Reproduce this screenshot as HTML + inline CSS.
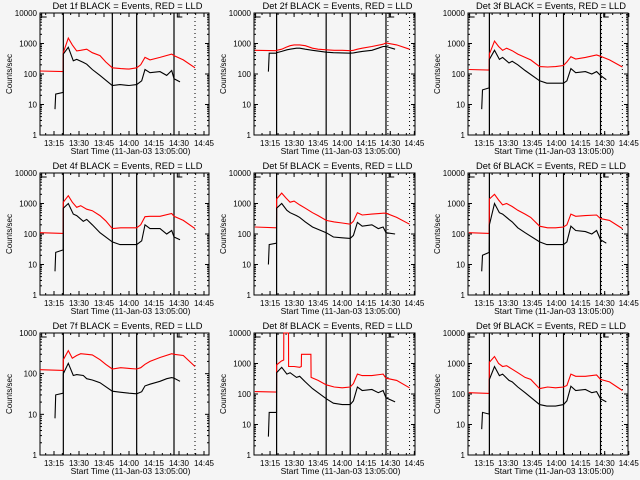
<!DOCTYPE html>
<html><head><meta charset="utf-8"><style>
html,body{margin:0;padding:0;background:#f5f5f5;}
svg{display:block;font-family:"Liberation Sans",sans-serif;}
</style></head><body>
<svg id="chart" width="640" height="480" viewBox="0 0 640 480" xmlns="http://www.w3.org/2000/svg">
<rect x="0" y="0" width="640" height="480" fill="#f5f5f5"/>
</svg>
<script>
// ---- data (minutes after 13:05:00, counts/sec) ----
const detNames = ["1f","2f","3f","4f","5f","6f","7f","8f","9f"];
const tickLabels = ["13:15","13:30","13:45","14:00","14:15","14:30","14:45"];
const tickMinutes = [10,25,40,55,70,85,100];
const yTicks = [1,10,100,1000,10000];
const yTickLabels = ["1","10","100","1000","10000"];

const tRedA = [1.6,15.5,15.6,18.6,21,23.6,26,29.6,33,37.6,41,45,50,55,59.6,62,64.6,67.6,73.6,80.6,82,87.6,94.6];
const tBlkA = [10.6,11,15.5,15.6,18.6,21.6,23.6,27.6,29.6,33,37.6,45,49.6,55,59.6,62.6,64.6,67.6,73.6,77.6,80.6,82,85.6];
const tRedB = [0.5,14,14.1,17.3,20,22.5,25,28.5,32,36.5,40,45,50,55,60,62,64.5,67.5,73.5,80.5,82.3,89,97];
const tBlkB = [9,9.5,14,14.1,17.3,20.5,22.5,26.5,28.5,32,36.5,45,49.5,55,60,62,64.5,67.5,73.5,77.5,80.5,82.3,88];
const tRedC = [0.5,13.2,13.3,16.5,19,21.5,24,27.5,31,35.5,39,44.5,49.5,54.5,59.4,61.5,64,67,73,80,82.4,88,96];
const tBlkC = [8.5,9,13.2,13.3,16.5,19.5,21.5,25.5,27.5,31,35.5,44.5,49,54.5,59.4,61.5,64,67,73,77,80,82.4,86];
const tRed8 = [0.5,14,14.1,17,18.5,18.6,21.5,21.6,25,28.5,29.5,29.6,35.5,35.6,40,45,50,55,60,62,64.5,67.5,73.5,80.5,82.3,89,97];

const red1 = [125,120,500,1500,900,570,600,650,500,400,250,160,150,145,160,200,350,290,350,450,400,290,160];
const blk1 = [7,22,25,450,750,270,300,240,210,140,90,42,45,42,45,60,140,110,120,90,130,70,55];
const red2 = [600,580,600,650,750,850,900,900,850,700,650,620,600,600,580,600,650,700,800,950,1050,900,650];
const blk2 = [120,480,480,500,550,620,650,700,700,650,600,520,500,490,480,490,520,550,600,700,800,800,650];
const red3 = [140,135,450,1200,800,600,700,580,450,350,290,175,170,175,190,250,370,310,350,420,380,290,170];
const blk3 = [7,30,35,300,600,300,350,230,260,200,130,60,50,50,50,60,150,110,120,100,120,90,65];
const red4 = [110,105,1100,1800,1100,750,850,650,580,400,270,150,160,160,160,200,370,380,380,470,380,280,150];
const blk4 = [6,25,30,700,1000,450,400,260,300,200,110,55,45,45,45,60,200,150,150,100,130,80,65];
const red5 = [170,160,1400,2200,1500,1100,1200,900,700,500,400,280,250,230,210,260,500,420,450,480,480,350,210];
const blk5 = [10,45,50,700,1000,600,500,400,350,250,170,110,80,75,72,90,240,180,200,150,170,110,100];
const red6 = [110,105,1400,2000,1300,900,1000,800,600,450,350,180,160,160,170,200,450,380,400,420,320,280,150];
const blk6 = [6,20,25,200,1000,500,450,300,250,160,110,55,45,45,45,55,180,130,120,100,130,65,50];
const red7 = [125,120,220,370,240,280,310,300,290,220,170,130,140,135,130,140,170,200,250,310,300,280,150];
const blk7 = [8,30,33,100,180,90,95,90,75,70,60,37,35,33,32,36,50,55,65,75,80,78,65];
const red8 = [120,115,900,1200,1300,10000,10000,800,800,750,800,2000,2000,350,280,200,170,160,170,220,450,400,400,450,330,280,160];
const blk8 = [4,25,25,500,750,450,500,350,380,250,150,70,50,45,45,60,170,130,140,110,130,75,55];
const red9 = [110,105,1100,1700,1000,800,850,650,500,350,300,150,170,160,170,190,450,380,380,420,300,250,130];
const blk9 = [7,25,22,300,800,400,450,280,250,170,110,45,40,40,45,60,180,130,140,110,120,70,55];

const solidA = [15.6,45,59.6,82];  const dotA = [94.6];
const solidB = [14.1,45,60,82.3];  const dotB = [83.5,97];
const solidC = [13.3,44.5,59.4,82.4]; const dotC = [83,96];

const redSeries = [red1,red2,red3,red4,red5,red6,red7,red8,red9];
const blkSeries = [blk1,blk2,blk3,blk4,blk5,blk6,blk7,blk8,blk9];
const redTimes = [tRedA,tRedB,tRedC,tRedA,tRedB,tRedC,tRedA,tRed8,tRedC];
const blkTimes = [tBlkA,tBlkB,tBlkC,tBlkA,tBlkB,tBlkC,tBlkA,tBlkB,tBlkC];

// ---- layout ----
const colX = [[40,209],[254,415],[468,628]];
const rowY = [[13,135],[173,295],[333,455]];
const colDomain = [[1.6,103],[0,100.4],[0,99.5]];
const colSolid = [solidA,solidB,solidC];
const colDot = [dotA,dotB,dotC];

const NS="http://www.w3.org/2000/svg";
const svg=document.getElementById('chart');
function mk(tag,attrs,parent){const e=document.createElementNS(NS,tag);for(const k in attrs)e.setAttribute(k,attrs[k]);(parent||svg).appendChild(e);return e;}

for(let p=0;p<9;p++){
  const c=p%3, r=Math.floor(p/3);
  const [x0,x1]=colX[c], [y0,y1]=rowY[r];
  const [d0,d1]=colDomain[c];
  const yMaxDec = (p===6)?3:4;
  const xs=t=>x0+(t-d0)/(d1-d0)*(x1-x0);
  const ys=v=>y1-Math.log10(Math.max(v,1))/yMaxDec*(y1-y0);
  const g=mk('g',{});
  
  

  const fr=mk('rect',{x:x0,y:y0,width:x1-x0,height:y1-y0,fill:'none',stroke:'#000','stroke-width':1},g);
  
  

  const ti=mk('text',{x:(x0+x1)/2+3,y:y0-4,'text-anchor':'middle','font-size':9.5,fill:'#000',textLength:150,lengthAdjust:'spacingAndGlyphs'},g);
  ti.textContent='Det '+detNames[p]+' BLACK = Events, RED = LLD';
  
  

  for(let i=0;i<=yMaxDec;i++){
    const v=yTicks[i], y=ys(v);
    mk('line',{x1:x0,x2:x0+4,y1:y,y2:y,stroke:'#000'},g);
    mk('line',{x1:x1-4,x2:x1,y1:y,y2:y,stroke:'#000'},g);
    for(let m=2;m<10&&i<yMaxDec;m++){
      const ym=ys(v*m);
      mk('line',{x1:x0,x2:x0+2,y1:ym,y2:ym,stroke:'#000'},g);
      mk('line',{x1:x1-2,x2:x1,y1:ym,y2:ym,stroke:'#000'},g);
    }
    const tl=mk('text',{x:x0-3,y:y+3,'text-anchor':'end','font-size':8,fill:'#000'},g);
    tl.textContent=yTickLabels[i];
    
    
  }
  const yt=mk('text',{x:0,y:0,'text-anchor':'middle','font-size':8,fill:'#000',transform:`translate(${x0-28},${(y0+y1)/2}) rotate(-90)`},g);
  yt.textContent='Counts/sec';
  
  

  for(let i=0;i<tickMinutes.length;i++){
    const x=xs(tickMinutes[i]);
    mk('line',{x1:x,x2:x,y1:y1,y2:y1-4,stroke:'#000'},g);
    mk('line',{x1:x,x2:x,y1:y0,y2:y0+4,stroke:'#000'},g);
    const tl=mk('text',{x:x,y:y1+11,'text-anchor':'middle','font-size':8,fill:'#000'},g);
    tl.textContent=tickLabels[i];
    
    
  }
  for(let m=5;m<d1;m+=5){
    if(m<d0)continue;
    const x=xs(m);
    mk('line',{x1:x,x2:x,y1:y1,y2:y1-2,stroke:'#000'},g);
    mk('line',{x1:x,x2:x,y1:y0,y2:y0+2,stroke:'#000'},g);
  }
  const xt=mk('text',{x:(x0+x1)/2+6,y:y1+19,'text-anchor':'middle','font-size':8.5,fill:'#000'},g);
  xt.textContent='Start Time (11-Jan-03 13:05:00)';
  
  

  colSolid[c].forEach(t=>{
    const l=mk('line',{x1:xs(t),x2:xs(t),y1:y0,y2:y1,stroke:'#000','stroke-width':1.2},g);
    
    
  });
  colDot[c].forEach(t=>{
    const l=mk('line',{x1:xs(t),x2:xs(t),y1:y0,y2:y1,stroke:'#000','stroke-width':1,'stroke-dasharray':'1,3'},g);
    
    
  });
  [d0+1, colSolid[c][3]+2].forEach(t=>{
    const x=xs(t);
    mk('path',{d:`M${x} ${y0} V${y0+4} H${x+5}`,fill:'none',stroke:'#000'},g);
  });

  const rt=redTimes[p], rv=redSeries[p];
  const rp=rt.map((t,i)=>xs(t).toFixed(1)+','+ys(rv[i]).toFixed(1)).join(' ');
  const rl=mk('polyline',{points:rp,fill:'none',stroke:'#ff0000','stroke-width':1.1},g);
  
  
  const bt=blkTimes[p], bv=blkSeries[p];
  const bp=bt.map((t,i)=>xs(t).toFixed(1)+','+ys(bv[i]).toFixed(1)).join(' ');
  const bl=mk('polyline',{points:bp,fill:'none',stroke:'#000','stroke-width':1.1},g);
  
  
}
</script>
</body></html>
